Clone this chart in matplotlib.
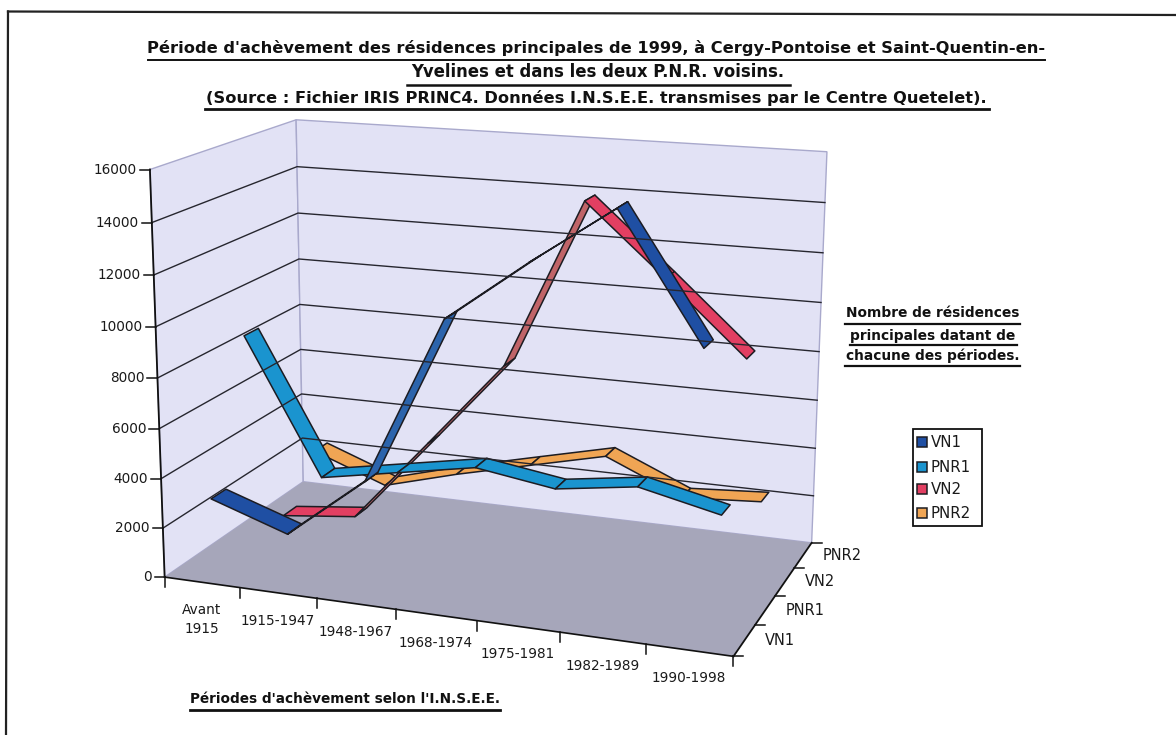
import numpy as np
import matplotlib
matplotlib.use('Agg')
import matplotlib.pyplot as plt
from matplotlib.patches import Polygon, Rectangle

periods = ['Avant\n1915', '1915-1947', '1948-1967', '1968-1974', '1975-1981', '1982-1989', '1990-1998']
series_names = ['VN1', 'PNR1', 'VN2', 'PNR2']
vn1 = [3080, 2040, 4504, 11072, 13416, 15600, 10864]
pnr1 = [8808, 3344, 3912, 4480, 4000, 4456, 3736]
vn2 = [360, 704, 4184, 7704, 14488, 11736, 8896]
pnr2 = [2224, 1072, 1928, 2680, 3424, 2048, 2256]
y_ticks = [0, 2000, 4000, 6000, 8000, 10000, 12000, 14000, 16000]
y_max = 16000

top_cols = ['#1f4fa3', '#1a94cf', '#e23f62', '#f0a554']
under_cols = ['#2c64ac', '#1a94cf', '#c06468', '#f0a554']

W, H = 1176, 735
plt.rcParams['font.family'] = 'DejaVu Sans'

# camera of the 3d box, fitted on its corners (u along periods, w depth, v height)
cam = [((0,0,0),(165,577)),((0,0,1),(150,169)),((0,1,0),(303,482)),((0,1,1),(296,120)),
       ((1,1,0),(812,542)),((1,1,1),(827,152)),((1,0,0),(733,657))]
A = []
b = []
for (u, w, v), (x, y) in cam:
    A.append([u,w,v,1,0,0,0,0,-x*u,-x*w,-x*v]); b.append(x)
    A.append([0,0,0,0,u,w,v,1,-y*u,-y*w,-y*v]); b.append(y)
P = np.linalg.lstsq(np.array(A, float), np.array(b, float), rcond=None)[0]
P = np.append(P, 1).reshape(3, 4)

def proj(u, w, v):
    h = P @ np.array([u, w, v, 1.0])
    return h[0]/h[2], h[1]/h[2]

def area(pts):
    x, y = np.array(pts).T
    return 0.5*np.sum(x*np.roll(y, -1) - y*np.roll(x, -1))

fig = plt.figure(figsize=(W/100, H/100), dpi=100)
ax = fig.add_axes([0, 0, 1, 1])
ax.set_xlim(0, W)
ax.set_ylim(H, 0)
ax.axis('off')

# page border of the scan
ax.plot([8, 1176], [11.5, 15], color='#222222', lw=1.6)
ax.plot([8, 6], [11.5, 735], color='#222222', lw=1.6)

# walls and floor
wall = '#e2e2f5'
edge = '#a9a9cc'
ax.add_patch(Polygon([proj(0,0,0), proj(0,1,0), proj(0,1,1), proj(0,0,1)], fc=wall, ec=edge, lw=1))
ax.add_patch(Polygon([proj(0,1,0), proj(1,1,0), proj(1,1,1), proj(0,1,1)], fc=wall, ec=edge, lw=1))
for t in y_ticks[1:-1]:
    v = t/y_max
    pts = [proj(0,0,v), proj(0,1,v), proj(1,1,v)]
    ax.plot(*zip(*pts), color='#26262e', lw=1)
ax.add_patch(Polygon([proj(0,0,0), proj(1,0,0), proj(1,1,0), proj(0,1,0)], fc='#a6a6ba', ec='none'))

# axes lines and ticks
ax.plot(*zip(proj(0,0,0), proj(0,0,1)), color='#111111', lw=1.3)
ax.plot(*zip(proj(0,0,0), proj(1,0,0)), color='#111111', lw=1.2)
ax.plot(*zip(proj(1,0,0), proj(1,1,0)), color='#111111', lw=1.3)
for t in y_ticks:
    x, y = proj(0, 0, t/y_max)
    ax.plot([x-10, x], [y, y], color='#111111', lw=1.1)
    ax.text(x-13, y, str(t), ha='right', va='center', fontsize=9.8, color='#1a1a1a')
for i in range(8):
    x, y = proj(i/7, 0, 0)
    ax.plot([x, x], [y, y+10], color='#111111', lw=1.1)
for i, lab in enumerate(periods):
    x, y = proj((i+.5)/7, 0, 0)
    ax.text(x, y+21, lab, ha='center', va='top', fontsize=9.8, color='#1a1a1a', linespacing=1.45)
for j in range(5):
    x, y = proj(1, j/4, 0)
    ax.plot([x, x+10], [y, y], color='#111111', lw=1.1)
for j, lab in enumerate(series_names):
    x, y = proj(1, (j+.5)/4, 0)
    ax.text(x+20, y, lab, ha='left', va='center', fontsize=10.5, color='#1a1a1a')

# ribbons, back series first
ribbon = 0.1
all_series = [vn1, pnr1, vn2, pnr2]
for j in [3, 2, 1, 0]:
    vals = all_series[j]
    w0 = (j+.5)/4 - ribbon/2
    w1 = (j+.5)/4 + ribbon/2
    for i in range(len(vals)-1):
        u0 = (i+.5)/7
        u1 = (i+1.5)/7
        v0 = vals[i]/y_max
        v1 = vals[i+1]/y_max
        quad = [proj(u0,w0,v0), proj(u0,w1,v0), proj(u1,w1,v1), proj(u1,w0,v1)]
        # on screen the two faces wind opposite ways, the underside is duller
        col = top_cols[j] if area(quad) > 0 else under_cols[j]
        ax.add_patch(Polygon(quad, fc=col, ec='#1c1c22', lw=1.1, joinstyle='round'))

# title and notes, underlined by hand like the original
title_font = dict(fontweight='bold', color='#111111', ha='center', va='baseline')
ax.text(596, 53, "Période d'achèvement des résidences principales de 1999, à Cergy-Pontoise et Saint-Quentin-en-", fontsize=11.7, **title_font)
ax.text(598, 77, "Yvelines et dans les deux P.N.R. voisins.", fontsize=11.9, **title_font)
ax.text(596, 103, "(Source : Fichier IRIS PRINC4. Données I.N.S.E.E. transmises par le Centre Quetelet).", fontsize=11.7, **title_font)
ax.plot([148, 1045], [59.5, 59.5], color='#111111', lw=1.4)
ax.plot([407, 790], [84.5, 84.5], color='#111111', lw=1.8)
ax.plot([205, 989], [108.5, 108.5], color='#111111', lw=2)

note = ['Nombre de résidences', 'principales datant de', 'chacune des périodes.']
note_y = [317, 340, 360]
line_y = [323.5, 344.5, 365.5]
line_x = [(845, 1020), (850, 1017), (845, 1020)]
for s, y0, y1, (x0, x1) in zip(note, note_y, line_y, line_x):
    ax.text(932.5, y0, s, fontsize=9.9, **title_font)
    ax.plot([x0, x1], [y1, y1], color='#111111', lw=1.6)

ax.text(345, 703, "Périodes d'achèvement selon l'I.N.S.E.E.", fontsize=9.8, **title_font)
ax.plot([190, 500], [710, 710], color='#111111', lw=2)

# legend
ax.add_patch(Rectangle((913, 429), 69, 97, fc='white', ec='#111111', lw=1.3))
for name, col, y in zip(series_names, top_cols, [442, 467, 489, 513]):
    ax.add_patch(Rectangle((917, y-5), 10, 10, fc=col, ec='#1c1c22', lw=1.1))
    ax.text(931, y, name, ha='left', va='center', fontsize=10.8, color='#1a1a1a')

fig.savefig('out.png', dpi=100, facecolor='white')
